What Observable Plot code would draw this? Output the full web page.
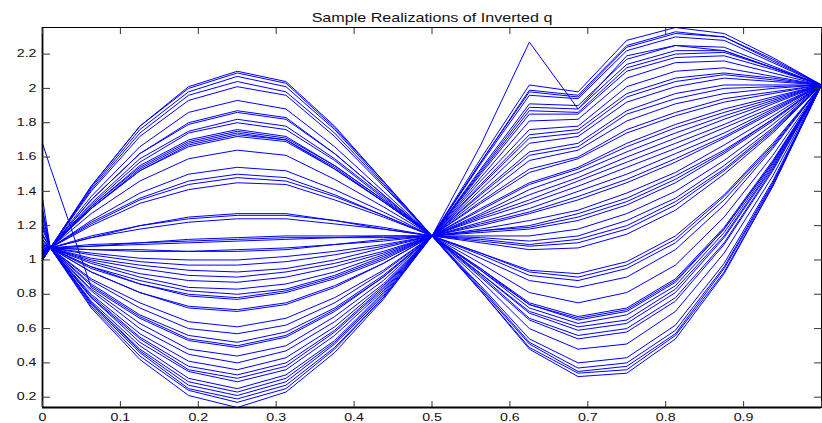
<!DOCTYPE html>
<html>
<head>
<meta charset="utf-8">
<script src="https://cdn.jsdelivr.net/npm/d3@7"></script>
<script src="https://cdn.jsdelivr.net/npm/@observablehq/plot@0.6"></script>
<style>
html, body { margin: 0; padding: 0; background: #fff; }
#chart svg { display: block; }
#chart svg text { font-family: "Liberation Sans", Arial, Helvetica, sans-serif; }
</style>
</head>
<body>
<div id="chart"></div>
<script>
// Sample grid of every realization
const xGrid = [0, 0.01, 0.0625, 0.125, 0.1875, 0.25, 0.3125, 0.375, 0.4375, 0.5,
               0.5625, 0.625, 0.6875, 0.75, 0.8125, 0.875, 0.9375, 1];

// Realizations (one row per line, values at xGrid)
const runsHigh = [
  [1.02, 1.07, 1.43, 1.78, 2.01, 2.10, 2.04, 1.78, 1.46, 1.14, 1.59, 2.02, 1.98, 2.28, 2.355, 2.32, 2.18, 2.02],
  [1.05, 1.07, 1.43, 1.78, 2.00, 2.09, 2.03, 1.77, 1.46, 1.14, 1.57, 1.99, 1.96, 2.25, 2.33, 2.30, 2.17, 2.02],
  [1.20, 1.07, 1.42, 1.76, 1.98, 2.07, 2.01, 1.76, 1.45, 1.14, 1.57, 1.98, 1.95, 2.24, 2.32, 2.30, 2.16, 2.02],
  [1.03, 1.07, 1.41, 1.74, 1.96, 2.04, 1.98, 1.74, 1.44, 1.14, 1.56, 1.96, 1.94, 2.22, 2.30, 2.28, 2.15, 2.02],
  [1.00, 1.07, 1.40, 1.72, 1.93, 2.01, 1.96, 1.72, 1.43, 1.14, 1.67, 2.27, 1.88, 2.19, 2.25, 2.22, 2.12, 2.02],
  [1.10, 1.07, 1.37, 1.66, 1.86, 1.93, 1.88, 1.66, 1.40, 1.14, 1.53, 1.91, 1.90, 2.17, 2.25, 2.24, 2.13, 2.02],
  [1.04, 1.07, 1.35, 1.62, 1.80, 1.87, 1.83, 1.62, 1.38, 1.14, 1.52, 1.89, 1.88, 2.14, 2.22, 2.22, 2.12, 2.02],
  [1.28, 1.07, 1.35, 1.62, 1.79, 1.86, 1.82, 1.62, 1.38, 1.14, 1.51, 1.87, 1.86, 2.12, 2.20, 2.21, 2.12, 2.02],
  [1.01, 1.07, 1.33, 1.59, 1.75, 1.82, 1.78, 1.59, 1.37, 1.14, 1.50, 1.85, 1.85, 2.10, 2.18, 2.19, 2.11, 2.02],
  [1.06, 1.07, 1.32, 1.57, 1.74, 1.80, 1.76, 1.58, 1.36, 1.14, 1.48, 1.81, 1.82, 2.06, 2.15, 2.16, 2.09, 2.02],
  [1.03, 1.07, 1.31, 1.55, 1.70, 1.76, 1.72, 1.55, 1.35, 1.14, 1.46, 1.76, 1.78, 2.01, 2.10, 2.12, 2.07, 2.02],
  [1.15, 1.07, 1.31, 1.54, 1.69, 1.75, 1.71, 1.55, 1.35, 1.14, 1.44, 1.73, 1.76, 1.97, 2.06, 2.09, 2.06, 2.02],
  [1.00, 1.07, 1.30, 1.53, 1.68, 1.74, 1.70, 1.54, 1.34, 1.14, 1.43, 1.71, 1.74, 1.95, 2.04, 2.08, 2.05, 2.02],
  [1.05, 1.07, 1.30, 1.52, 1.67, 1.73, 1.70, 1.53, 1.34, 1.14, 1.41, 1.68, 1.72, 1.92, 2.01, 2.06, 2.04, 2.02]
];
const runsUpperMid = [
  [1.08, 1.07, 1.30, 1.52, 1.66, 1.72, 1.69, 1.53, 1.34, 1.14, 1.39, 1.63, 1.68, 1.87, 1.97, 2.02, 2.02, 2.02],
  [1.36, 1.07, 1.27, 1.46, 1.59, 1.64, 1.61, 1.47, 1.31, 1.14, 1.38, 1.61, 1.66, 1.85, 1.94, 2.00, 2.01, 2.02],
  [1.02, 1.07, 1.23, 1.39, 1.50, 1.54, 1.52, 1.41, 1.28, 1.14, 1.36, 1.58, 1.64, 1.81, 1.91, 1.97, 2.00, 2.02],
  [1.04, 1.07, 1.22, 1.36, 1.46, 1.50, 1.48, 1.38, 1.26, 1.14, 1.34, 1.53, 1.60, 1.76, 1.86, 1.94, 1.98, 2.02],
  [1.12, 1.07, 1.21, 1.35, 1.44, 1.48, 1.46, 1.37, 1.26, 1.14, 1.33, 1.51, 1.59, 1.74, 1.84, 1.92, 1.97, 2.02],
  [1.01, 1.07, 1.20, 1.33, 1.41, 1.45, 1.44, 1.35, 1.25, 1.14, 1.30, 1.45, 1.54, 1.68, 1.79, 1.88, 1.95, 2.02],
  [1.06, 1.07, 1.14, 1.20, 1.25, 1.27, 1.27, 1.23, 1.19, 1.14, 1.29, 1.44, 1.53, 1.66, 1.77, 1.86, 1.94, 2.02],
  [1.03, 1.07, 1.13, 1.20, 1.24, 1.26, 1.26, 1.23, 1.18, 1.14, 1.27, 1.41, 1.51, 1.63, 1.74, 1.84, 1.93, 2.02],
  [1.22, 1.07, 1.13, 1.18, 1.22, 1.24, 1.24, 1.21, 1.18, 1.14, 1.26, 1.38, 1.48, 1.60, 1.71, 1.82, 1.92, 2.02],
  [1.00, 1.07, 1.09, 1.10, 1.12, 1.13, 1.14, 1.14, 1.14, 1.14, 1.25, 1.35, 1.46, 1.57, 1.68, 1.79, 1.91, 2.02],
  [1.05, 1.07, 1.08, 1.10, 1.11, 1.12, 1.13, 1.13, 1.14, 1.14, 1.24, 1.33, 1.43, 1.54, 1.65, 1.77, 1.89, 2.02],
  [1.09, 1.07, 1.08, 1.09, 1.10, 1.11, 1.12, 1.13, 1.13, 1.14, 1.22, 1.30, 1.40, 1.50, 1.62, 1.74, 1.88, 2.02],
  [1.02, 1.07, 1.06, 1.06, 1.05, 1.06, 1.07, 1.09, 1.12, 1.14, 1.21, 1.28, 1.37, 1.47, 1.59, 1.72, 1.87, 2.02],
  [1.30, 1.07, 1.06, 1.05, 1.05, 1.05, 1.06, 1.09, 1.11, 1.14, 1.20, 1.27, 1.35, 1.45, 1.57, 1.71, 1.86, 2.02]
];
const runsLowerMid = [
  [1.04, 1.07, 1.04, 1.01, 1.00, 1.00, 1.02, 1.05, 1.09, 1.14, 1.18, 1.23, 1.29, 1.39, 1.51, 1.67, 1.84, 2.02],
  [1.01, 1.07, 1.03, 0.99, 0.97, 0.97, 0.99, 1.03, 1.08, 1.14, 1.17, 1.20, 1.27, 1.36, 1.49, 1.64, 1.82, 2.02],
  [1.07, 1.07, 1.01, 0.97, 0.94, 0.93, 0.95, 1.00, 1.07, 1.14, 1.17, 1.19, 1.25, 1.34, 1.47, 1.63, 1.82, 2.02],
  [1.03, 1.07, 1.00, 0.95, 0.91, 0.90, 0.93, 0.98, 1.05, 1.14, 1.16, 1.18, 1.23, 1.32, 1.45, 1.62, 1.81, 2.02],
  [1.18, 1.07, 0.99, 0.92, 0.88, 0.87, 0.90, 0.96, 1.04, 1.14, 1.14, 1.14, 1.18, 1.27, 1.40, 1.58, 1.79, 2.02],
  [1.00, 1.07, 0.98, 0.90, 0.84, 0.83, 0.86, 0.93, 1.03, 1.14, 1.13, 1.11, 1.14, 1.23, 1.36, 1.55, 1.77, 2.02],
  [1.05, 1.07, 0.96, 0.88, 0.82, 0.80, 0.83, 0.91, 1.02, 1.14, 1.12, 1.09, 1.12, 1.20, 1.34, 1.53, 1.76, 2.02],
  [1.02, 1.07, 0.96, 0.86, 0.80, 0.78, 0.82, 0.90, 1.01, 1.14, 1.11, 1.08, 1.10, 1.18, 1.32, 1.52, 1.75, 2.02],
  [1.11, 1.07, 0.95, 0.86, 0.79, 0.77, 0.81, 0.89, 1.00, 1.14, 1.10, 1.06, 1.07, 1.15, 1.29, 1.50, 1.74, 2.02],
  [1.04, 1.07, 0.93, 0.81, 0.73, 0.71, 0.75, 0.85, 0.98, 1.14, 1.04, 0.94, 0.92, 0.99, 1.14, 1.38, 1.68, 2.02],
  [1.01, 1.07, 0.93, 0.81, 0.72, 0.70, 0.74, 0.84, 0.98, 1.14, 1.04, 0.93, 0.90, 0.97, 1.12, 1.37, 1.67, 2.02],
  [1.06, 1.07, 0.89, 0.75, 0.64, 0.61, 0.66, 0.78, 0.94, 1.14, 1.03, 0.91, 0.88, 0.95, 1.10, 1.35, 1.66, 2.02],
  [1.25, 1.07, 0.88, 0.72, 0.60, 0.57, 0.62, 0.75, 0.93, 1.14, 1.01, 0.88, 0.84, 0.90, 1.06, 1.32, 1.65, 2.02],
  [1.03, 1.07, 0.86, 0.68, 0.56, 0.52, 0.58, 0.72, 0.91, 1.14, 0.98, 0.81, 0.75, 0.81, 0.97, 1.25, 1.61, 2.02]
];
const runsLow = [
  [1.00, 1.07, 0.85, 0.67, 0.54, 0.50, 0.56, 0.71, 0.90, 1.14, 0.95, 0.75, 0.67, 0.72, 0.89, 1.19, 1.58, 2.02],
  [1.68, 1.54, 0.84, 0.66, 0.53, 0.49, 0.55, 0.70, 0.90, 1.14, 0.95, 0.74, 0.66, 0.71, 0.88, 1.18, 1.57, 2.02],
  [1.05, 1.07, 0.83, 0.63, 0.48, 0.44, 0.50, 0.67, 0.88, 1.14, 0.94, 0.74, 0.65, 0.70, 0.87, 1.18, 1.57, 2.02],
  [1.02, 1.07, 0.82, 0.60, 0.45, 0.40, 0.47, 0.64, 0.86, 1.14, 0.94, 0.72, 0.63, 0.68, 0.85, 1.16, 1.56, 2.02],
  [1.14, 1.07, 0.80, 0.57, 0.41, 0.36, 0.43, 0.61, 0.85, 1.14, 0.92, 0.70, 0.61, 0.65, 0.83, 1.14, 1.55, 2.02],
  [1.04, 1.07, 0.79, 0.55, 0.38, 0.33, 0.40, 0.59, 0.84, 1.14, 0.92, 0.69, 0.59, 0.63, 0.81, 1.13, 1.54, 2.02],
  [1.01, 1.07, 0.78, 0.54, 0.36, 0.31, 0.38, 0.58, 0.83, 1.14, 0.91, 0.66, 0.56, 0.60, 0.78, 1.10, 1.53, 2.02],
  [1.07, 1.07, 0.78, 0.52, 0.35, 0.29, 0.36, 0.56, 0.82, 1.14, 0.90, 0.65, 0.54, 0.58, 0.76, 1.09, 1.52, 2.02],
  [1.03, 1.07, 0.76, 0.50, 0.31, 0.25, 0.33, 0.53, 0.81, 1.14, 0.88, 0.60, 0.48, 0.51, 0.70, 1.04, 1.49, 2.02],
  [1.00, 1.07, 0.75, 0.48, 0.29, 0.23, 0.31, 0.52, 0.80, 1.14, 0.85, 0.54, 0.40, 0.43, 0.62, 0.98, 1.46, 2.02],
  [1.09, 1.07, 0.75, 0.47, 0.27, 0.21, 0.29, 0.51, 0.79, 1.14, 0.84, 0.52, 0.37, 0.40, 0.59, 0.96, 1.45, 2.02],
  [1.05, 1.07, 0.74, 0.46, 0.25, 0.19, 0.27, 0.49, 0.78, 1.14, 0.83, 0.51, 0.35, 0.38, 0.57, 0.95, 1.44, 2.02],
  [1.02, 1.07, 0.73, 0.44, 0.24, 0.17, 0.25, 0.48, 0.78, 1.14, 0.82, 0.49, 0.34, 0.36, 0.56, 0.93, 1.43, 2.02],
  [1.04, 1.07, 0.72, 0.42, 0.21, 0.14, 0.23, 0.46, 0.77, 1.14, 0.82, 0.48, 0.32, 0.34, 0.54, 0.92, 1.43, 2.02]
];

// Axis ticks and labels
const xTicks = [0, 0.1, 0.2, 0.3, 0.4, 0.5, 0.6, 0.7, 0.8, 0.9, 1];
const xLabelTicks = [0, 0.1, 0.2, 0.3, 0.4, 0.5, 0.6, 0.7, 0.8, 0.9];
const yTicks = [0.2, 0.4, 0.6, 0.8, 1, 1.2, 1.4, 1.6, 1.8, 2, 2.2];
const titleText = ["Sample Realizations of Inverted q"];

const allRuns = [...runsHigh, ...runsUpperMid, ...runsLowerMid, ...runsLow];
const points = allRuns.flatMap((row, i) => row.map((v, j) => ({run: i, x: xGrid[j], y: v})));
const xDomain = [xGrid[0], xGrid[xGrid.length - 1]];
const yDomain = d3.extent(points, d => d.y);
const plain = d => String(d);

const chart = Plot.plot({
  width: 822,
  height: 423,
  marginLeft: 42,
  marginRight: 1,
  marginTop: 27,
  marginBottom: 16,
  style: {background: "#fff", overflow: "visible", fontFamily: "Liberation Sans, Arial, sans-serif"},
  x: {domain: xDomain},
  y: {domain: yDomain},
  marks: [
    Plot.line(points, {x: "x", y: "y", z: "run", stroke: "#0000ff", strokeWidth: 1, strokeLinejoin: "miter", strokeMiterlimit: 4}),
    Plot.frame({stroke: "#000", strokeWidth: 1}),
    Plot.ruleX([xDomain[0]], {stroke: "#000", strokeWidth: 1.8}),
    Plot.ruleY([yDomain[0]], {stroke: "#000", strokeWidth: 1.8}),
    Plot.axisY(yTicks, {anchor: "left", tickSize: -8, tickFormat: () => "", stroke: "#333", label: null}),
    Plot.axisY(yTicks, {anchor: "right", tickSize: -8, tickFormat: () => "", stroke: "#333", label: null}),
    Plot.axisX(xTicks, {anchor: "bottom", tickSize: -6, tickFormat: () => "", stroke: "#333", label: null}),
    Plot.axisX(xTicks, {anchor: "top", tickSize: -6, tickFormat: () => "", stroke: "#333", label: null}),
    Plot.axisY(yTicks, {anchor: "left", tickSize: 0, tickPadding: 6, fontSize: 10, fill: "#111", tickFormat: plain, label: null}),
    Plot.axisX(xLabelTicks, {anchor: "bottom", tickSize: 0, tickPadding: 6, fontSize: 10, fill: "#111", tickFormat: plain, label: null}),
    Plot.text(titleText, {frameAnchor: "top", lineAnchor: "middle", text: d => d, dy: -9.5, fontSize: 13, fill: "#111"})
  ]
});

document.getElementById("chart").appendChild(chart);

// widen glyphs horizontally like the reference rendering (keep the em-based y offsets)
function stretch(selection, sx) {
  selection.each(function () {
    let t = this.getAttribute("transform") || "";
    const x = this.getAttribute("x");
    if (x !== null && !/em$/.test(x)) {
      t += ` translate(${+x || 0},0)`;
      this.removeAttribute("x");
    }
    this.setAttribute("transform", `${t} scale(${sx},1)`);
  });
}
const svg = d3.select(chart);
stretch(svg.selectAll('g[aria-label="y-axis tick label"] text, g[aria-label="x-axis tick label"] text'), 1.42);
stretch(svg.selectAll('g[aria-label="text"] text'), 1.24);
</script>
</body>
</html>
